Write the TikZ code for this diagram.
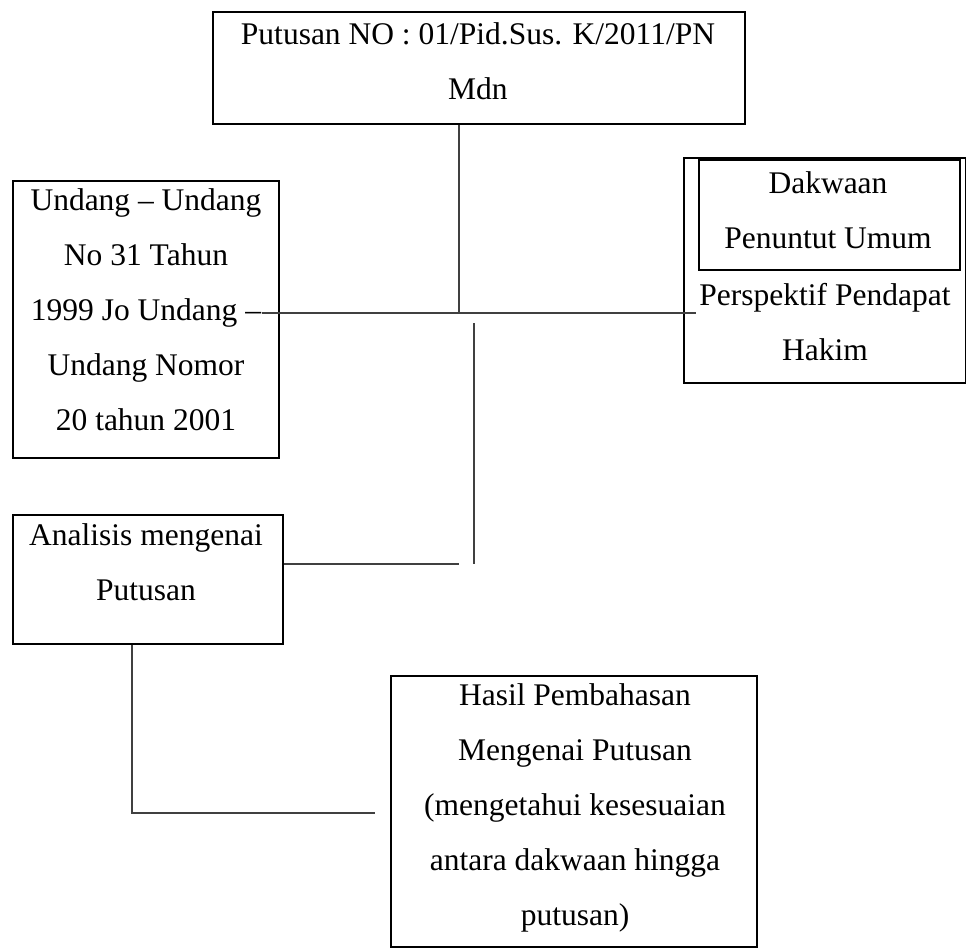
\documentclass[tikz,border=0pt]{standalone}
\usepackage{fontspec}
\setmainfont{Liberation Serif}

\begin{document}
\begin{tikzpicture}[x=0.5pt, y=-0.5pt,
    box/.style={draw, line width=1pt, inner sep=0pt, anchor=north west},
    txt/.style={align=center, inner sep=0pt, font=\fontsize{15.75}{27.5}\selectfont},
    link/.style={draw=black!75, line width=0.6pt}]
    \useasboundingbox (0,0) rectangle (966,949);

    % Putusan
    \node[box, minimum width=266pt, minimum height=56pt] (putusan) at (212,11) {};
    \node[txt] (putusanT) at (478,61) {Putusan NO : 01/Pid.Sus. K/2011/PN\\ Mdn};

    % Undang - Undang
    \node[box, minimum width=133pt, minimum height=138.5pt] (uu) at (12,180) {};
    \node[txt] (uuT) at (146,310) {Undang – Undang\\ No 31 Tahun\\ 1999 Jo Undang –\\ Undang Nomor\\ 20 tahun 2001};

    % Dakwaan (outer box, inner box)
    \node[box, minimum width=141pt, minimum height=112.5pt] (dak) at (683,157) {};
    \node[box, minimum width=130.5pt, minimum height=55pt] (dakIn) at (698,159) {};
    \node[txt] (dakInT) at (828,210) {Dakwaan\\ Penuntut Umum};
    \node[txt] (dakT) at (825,322) {Perspektif Pendapat\\ Hakim};

    % Analisis
    \node[box, minimum width=135pt, minimum height=64.5pt] (ana) at (12,514) {};
    \node[txt] (anaT) at (146,562) {Analisis mengenai\\ Putusan};

    % Hasil
    \node[box, minimum width=183pt, minimum height=135.5pt] (hasil) at (390,675) {};
    \node[txt] (hasilT) at (575,808) {Hasil Pembahasan\\ Mengenai Putusan\\ (mengetahui kesesuaian\\ antara dakwaan hingga\\ putusan)};

    % lines
    \coordinate (jn) at (459,313);
    \coordinate (uuEnd) at (262,313);
    \coordinate (dakEnd) at (696,313);
    \draw[link] (putusan.south -| jn) -- (jn);
    \draw[link] (uuEnd) -- (dakEnd);

    \coordinate (vTop) at (474,323);
    \coordinate (vBot) at (474,564);
    \draw[link] (vTop) -- (vBot);

    \coordinate (anaEnd) at (459,564);
    \draw[link] (anaEnd -| ana.east) -- (anaEnd);

    \coordinate (bend) at (132,813);
    \coordinate (hasilEnd) at (375,813);
    \draw[link] (ana.south -| bend) -- (bend) -- (hasilEnd);
\end{tikzpicture}
\end{document}
